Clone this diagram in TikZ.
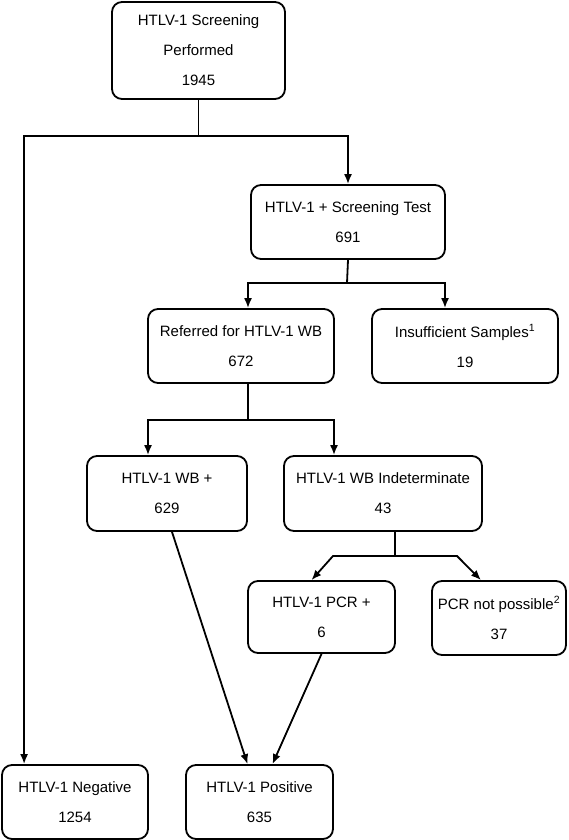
\documentclass[tikz,border=0pt]{standalone}
\usepackage{fontspec}
\setmainfont{Liberation Sans}
\usetikzlibrary{positioning}
\usetikzlibrary{calc}
\usetikzlibrary{arrows.meta}

\tikzset{
  stage/.style={draw, rectangle, rounded corners=10pt, line width=1.8pt, align=center, inner sep=0pt, font=\fontsize{15}{30}\selectfont},
  flow/.style={-{Latex[length=10pt,width=8pt]}, line width=1.8pt},
}

\begin{document}
\begin{tikzpicture}[x=1pt,y=-1pt]
  \useasboundingbox (0,0) rectangle (569,840);

  \node[stage, minimum width=173pt, minimum height=97pt] (scr) at (198.5,50.5) {HTLV-1 Screening\\Performed\\1945};
  \node[stage, minimum width=194pt, minimum height=74pt] (test) at (348,222) {HTLV-1 + Screening Test\\691};
  \node[stage, minimum width=186pt, minimum height=74pt] (ref) at (241,346) {Referred for HTLV-1 WB\\672};
  \node[stage, minimum width=186pt, minimum height=74pt] (insuf) at (465,346) {Insufficient Samples\textsuperscript{1}\\19};
  \node[stage, minimum width=160pt, minimum height=75pt] (wbpos) at (167,493.5) {HTLV-1 WB +\\629};
  \node[stage, minimum width=198pt, minimum height=75pt] (indet) at (383,493.5) {HTLV-1 WB Indeterminate\\43};
  \node[stage, minimum width=147pt, minimum height=72pt] (pcr) at (321.5,617) {HTLV-1 PCR +\\6};
  \node[stage, minimum width=134pt, minimum height=74pt] (nopcr) at (499,618) {PCR not possible\textsuperscript{2}\\37};
  \node[stage, minimum width=146pt, minimum height=74pt] (neg) at (75,802) {HTLV-1 Negative\\1254};
  \node[stage, minimum width=147pt, minimum height=74pt] (pos) at (259.5,802) {HTLV-1 Positive\\635};

  % branch points
  \coordinate (s1) at (198.5,136);
  \coordinate (s2) at (347,283);
  \coordinate (s3) at (248,420);
  \coordinate (s4) at (395,556);
  \coordinate (s4l) at (333,556);
  \coordinate (s4r) at (457,556);

  \draw[flow] (scr.south) -- (s1) -| (test.north);
  \draw[flow] (s1) -| ([xshift=23pt]neg.north west);

  \draw[flow] (test.south) -- (s2) -| ([xshift=7pt]ref.north);
  \draw[flow] (s2) -| ([xshift=-20pt]insuf.north);

  \draw[flow] ([xshift=7pt]ref.south) -- (s3) -| ([xshift=-19pt]wbpos.north);
  \draw[flow] (s3) -| ([xshift=-49pt]indet.north);

  \draw[flow] ([xshift=12pt]indet.south) -- (s4) -- (s4l) -- ([xshift=-10pt]pcr.north);
  \draw[flow] (s4) -- (s4r) -- ([xshift=-18pt]nopcr.north);

  \draw[flow] ([xshift=5pt]wbpos.south) -- ([xshift=-12pt]pos.north);
  \draw[flow] (pcr.south) -- ([xshift=13pt]pos.north);
\end{tikzpicture}
\end{document}
